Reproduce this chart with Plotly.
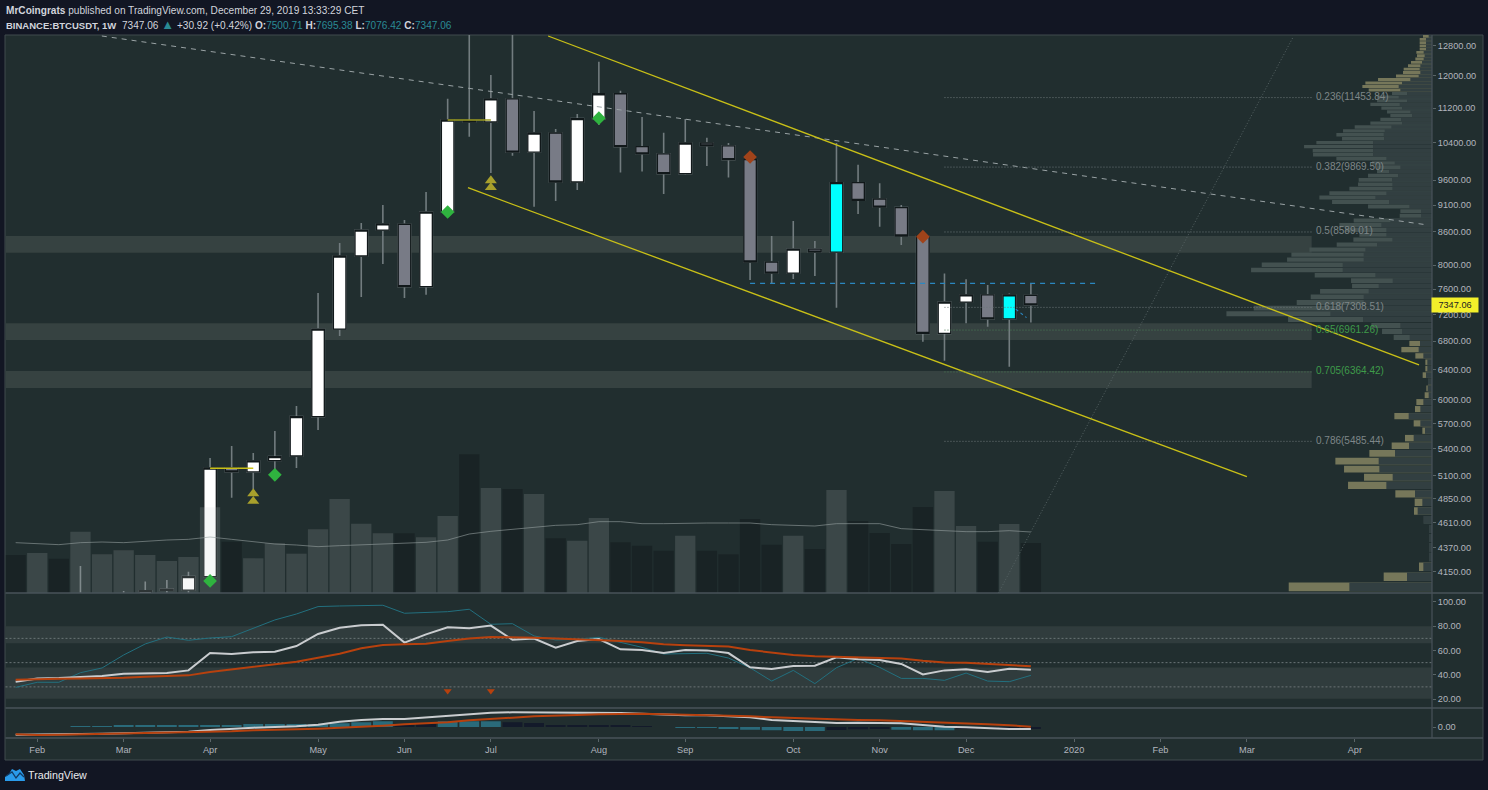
import math
import plotly.graph_objects as go

W, H = 1488, 790

# weekly candles, week 0 = 2019-04-01
candle_weeks = list(range(-6, 39))
opens = [3790, 3810, 3830, 3880, 3997, 3989, 4106, 5181, 5137, 5264, 5316, 5783, 6977, 8158, 8625,
         8732, 7639, 8964, 10900, 10870, 11420, 10191, 10617, 9560, 10950, 11549, 10310, 10155, 9733,
         10392, 10330, 10027, 8054, 7866, 8280, 8227, 9545, 9218, 9050, 8515, 6913, 7392, 7505, 7130, 7500.71]
highs = [4201, 3950, 3981, 4062, 4077, 4148, 5293, 5431, 5350, 5608, 5917, 7536, 8389, 8757, 9100,
         8813, 9355, 11427, 13970, 12020, 13200, 11127, 10710, 11060, 12365, 11620, 10987, 10625, 10940,
         10510, 10392, 10130, 8515, 8795, 8425, 10392, 9920, 9535, 9100, 8530, 7860, 7762, 7667, 7530, 7695.38]
lows = [3650, 3700, 3780, 3840, 3900, 3930, 4068, 4860, 4953, 5137, 5181, 5620, 6874, 7473, 8020,
        7457, 7509, 8880, 10534, 9745, 10110, 9066, 9178, 9395, 10800, 9755, 9778, 9316, 9710,
        9895, 9650, 7750, 7700, 7767, 7816, 7303, 8925, 8687, 8353, 6790, 6520, 7065, 7010, 6436, 7076.42]
closes = [3800, 3830, 3870, 3983, 3987, 4106, 5181, 5137, 5260, 5309, 5783, 6977, 8158, 8625, 8738,
          7639, 8964, 10917, 10870, 11420, 10191, 10617, 9560, 10950, 11549, 10310, 10155, 9733, 10392,
          10330, 10027, 8054, 7866, 8280, 8227, 9545, 9192, 9060, 8515, 6913, 7392, 7505, 7130, 7505, 7347.06]
cyan_weeks = [29, 37]

# volume pane
vol_weeks = list(range(-9, 39))
volumes = [114, 120, 103, 184, 116, 128, 114, 96, 108, 257, 154, 104, 149, 118, 191, 282, 208, 179, 179, 167,
           231, 416, 315, 312, 297, 164, 157, 225, 152, 142, 127, 172, 127, 116, 222, 145, 172, 132, 309, 216,
           180, 147, 258, 306, 201, 154, 207, 150]
vol_light = [-8, -6, -5, -4, -3, -2, -1, 0, 2, 3, 4, 5, 6, 7, 8, 10, 11, 13, 15, 17, 18, 22, 27, 29, 34, 35, 37]
vol_ma = [151, 148, 145, 151, 153, 151, 156, 159, 161, 168, 161, 153, 147, 144, 139, 142, 145, 147, 149, 152,
          159, 177, 185, 191, 198, 203, 205, 214, 214, 208, 208, 210, 210, 210, 210, 205, 203, 201, 208, 209,
          208, 193, 190, 189, 184, 184, 187, 183]

# stochastic / rsi pane
stoch = [29.6, 33.8, 33.8, 41.7, 45.6, 56.3, 65.4, 71.1, 68.4, 70.3, 71.4, 78.3, 85.2, 90.1, 96.2, 96.7, 97.3, 97.3,
         90.7, 91.2, 92.0, 94.0, 81.6, 82.1, 72.0, 68.7, 69.2, 70.9, 66.5, 62.6, 57.1, 57.1, 57.7, 53.8, 45.8, 34.8,
         43.6, 32.7, 45.8, 53.5, 46.1, 37.0, 37.0, 35.4, 41.4, 34.8, 34.3, 39.5]
rsi = [34.3, 37.0, 37.3, 37.9, 39.0, 40.9, 41.4, 41.4, 43.6, 57.9, 57.1, 58.5, 59.0, 63.7, 73.6, 78.8, 80.8, 81.3,
       66.5, 73.3, 79.1, 78.3, 80.5, 68.9, 69.8, 62.3, 67.8, 69.5, 61.0, 60.4, 57.9, 60.4, 60.1, 57.9, 46.1, 44.7,
       47.2, 47.5, 54.4, 52.7, 52.2, 48.9, 40.3, 43.6, 44.5, 42.3, 45.0, 44.2]
rsi_ma = [35.9, 36.5, 36.8, 37.0, 37.0, 37.6, 38.4, 39.0, 39.5, 42.3, 44.5, 46.4, 48.3, 50.8, 54.1, 57.4, 61.8, 64.5,
          65.1, 65.6, 67.8, 69.8, 71.1, 71.1, 70.6, 69.8, 69.2, 68.9, 67.8, 66.7, 65.1, 64.3, 63.7, 63.2, 60.4, 58.2,
          56.3, 55.2, 54.9, 54.6, 54.1, 53.5, 51.6, 50.2, 50.0, 49.2, 48.0, 47.0]
rsi_signal_weeks = [11, 13]
rsi_signal_values = [26.6, 26.6]

# macd pane
macd = [-621, -621, -594, -567, -540, -513, -486, -459, -378, -243, -135, -54, 0, 54, 189, 432, 567, 648, 648, 783,
        891, 1053, 1161, 1188, 1188, 1161, 1134, 1161, 1134, 1080, 999, 945, 945, 891, 783, 567, 486, 432, 324, 351,
        324, 297, 162, 27, -27, -108, -162, -162]
macd_signal = [-594, -648, -621, -594, -567, -540, -513, -486, -459, -405, -351, -270, -243, -189, -135, -54, 0, 108,
               216, 297, 378, 540, 675, 756, 864, 891, 972, 1026, 1053, 1080, 1026, 999, 972, 945, 864, 783, 729, 648,
               567, 567, 540, 486, 405, 351, 297, 216, 135, 27]
hist_weeks = list(range(-6, 39))
hist = [27, 27, 108, 108, 108, 108, 162, 162, 243, 243, 243, 216, 297, 378, 459, 189, 243, 459, 459, 459, 378, 324,
        162, 162, 162, 108, 54, 0, -27, -54, -162, -216, -270, -324, -324, -243, -189, -162, -216, -270, -270,
        -108, -135, -135, -162]
hist_dark = [9, 10, 14, 15, 16, 17, 18, 19, 20, 29, 30, 31, 35, 36, 37, 38]

# volume profile rows, bottom to top
vp_bottom = 4016
vp_step = 88.67
vp_total = [430, 145, 39, 9, 9, 9, 9, 25, 54, 52, 110, 252, 204, 264, 290, 188, 121, 81, 29, 55, 113, 51, 47, 22, 17,
            12, 28, 20, 20, 50, 92, 68, 115, 150, 182, 432, 617, 535, 406, 364, 336, 240, 243, 352, 543, 511, 435,
            422, 368, 286, 236, 218, 260, 278, 235, 97, 95, 192, 300, 338, 308, 248, 222, 220, 192, 165, 165, 180,
            287, 357, 358, 384, 347, 270, 287, 267, 232, 185, 155, 125, 135, 152, 185, 165, 165, 120, 190, 209, 200,
            162, 108, 87, 85, 72, 63, 50, 45, 47, 37, 37, 37, 37, 27]
vp_inner = [248, 75, 26, 9, 9, 9, 9, 25, 43, 29, 51, 137, 118, 158, 160, 111, 69, 55, 21, 35, 70, 35, 26, 10, 13,
            12, 18, 14, 14, 26, 40, 36, 67, 90, 95, 207, 305, 270, 205, 205, 190, 160, 118, 170, 268, 268, 205,
            205, 200, 165, 119, 137, 137, 152, 125, 33, 33, 68, 129, 170, 137, 119, 119, 120, 102, 129, 95, 112,
            137, 177, 177, 177, 177, 144, 145, 142, 122, 90, 93, 60, 65, 90, 97, 75, 100, 75, 95, 100, 90,
            65, 40, 35, 37, 35, 30, 25, 22, 25, 18, 18, 18, 18, 10]
vp_olive_rows = list(range(0, 3)) + list(range(8, 32)) + list(range(86, 103))

# horizontal zones
zone_low = [8215, 6816, 6150]
zone_high = [8515, 7064, 6376]
zone_end_week = 51

# fib levels
fib_start_week = 34
fib_end_week = 51
fib_prices = [11453.84, 9869.50, 8589.01, 7308.51, 6961.26, 6364.42, 5485.44]
fib_labels = ["0.236(11453.84)", "0.382(9869.50)", "0.5(8589.01)", "0.618(7308.51)",
              "0.65(6961.26)", "0.705(6364.42)", "0.786(5485.44)"]
fib_colors = ["#7e8688", "#7e8688", "#7e8688", "#7e8688", "#3f9b4a", "#3f9b4a", "#7e8688"]

# drawings, (week, price) at both ends
channel_upper_weeks = [15.65, 55.97]
channel_upper_prices = [13069, 6460]
channel_lower_weeks = [11.94, 48.0]
channel_lower_prices = [9443, 5086]
dashed_weeks = [-5.01, 56.37]
dashed_prices = [13069, 8719]
diag_weeks = [36.5, 50.14]
diag_prices = [3964, 13040]
resist_weeks = [25, 41]
resist_prices = [7695, 7695]
small_blue_weeks = [37.3, 37.8]
small_blue_prices = [7280, 7150]
step_weeks = [[0, 2], [11, 13]]
step_prices = [[5178, 5178], [10917, 10917]]

# signals on the candles
green_weeks = [0, 3, 11, 18]
green_prices = [4068, 5106, 8965, 10960]
red_weeks = [25, 33]
red_prices = [10085, 8503]
arrow_weeks = [2, 2, 13, 13]
arrow_prices = [4905, 4825, 9590, 9450]

# axis ticks
price_ticks = [12800, 12000, 11200, 10400, 9600, 9100, 8600, 8000, 7600, 7200, 6800, 6400, 6000, 5700, 5400, 5100,
               4850, 4610, 4370, 4150]
rsi_ticks = [100, 80, 60, 40, 20]
month_weeks = [-8, -4, 0, 5, 9, 13, 18, 22, 27, 31, 35, 40, 44, 48, 53]
month_labels = ["Feb", "Mar", "Apr", "May", "Jun", "Jul", "Aug", "Sep", "Oct", "Nov", "Dec", "2020", "Feb", "Mar", "Apr"]

BG = "#212e2f"
PAGE = "#121623"
TEXT = "#b2b5be"
FONT = "Liberation Sans"


def px(x):
    return x / W


def py(y):
    return 1 - y / H


week_range = [-9.47, 56.57]
fig = go.Figure()

# wicks go first, bodies have no whiskers so they sit clean on top
fig.add_trace(go.Candlestick(x=candle_weeks, open=opens, high=highs, low=lows, close=closes,
                             increasing=dict(fillcolor="#727c7f", line=dict(color="#727c7f", width=1.6)),
                             decreasing=dict(fillcolor="#727c7f", line=dict(color="#727c7f", width=1.6))))


def body_color(w, o, c):
    if w in cyan_weeks:
        return "#00ffff"
    return "#ffffff" if c >= o else "#787b86"


for col in ["#ffffff", "#787b86", "#00ffff"]:
    idx = [i for i, w in enumerate(candle_weeks) if body_color(w, opens[i], closes[i]) == col]
    o = [opens[i] for i in idx]
    c = [closes[i] for i in idx]
    style = dict(fillcolor=col, line=dict(color="#11181a", width=1.3))
    fig.add_trace(go.Candlestick(x=[candle_weeks[i] for i in idx], open=o, close=c,
                                 high=[max(a, b) for a, b in zip(o, c)], low=[min(a, b) for a, b in zip(o, c)],
                                 increasing=style, decreasing=style))

# volume
fig.add_trace(go.Bar(x=vol_weeks, y=volumes, yaxis="y4", width=0.94,
                     marker=dict(color=["rgba(200,205,205,0.16)" if w in vol_light else "rgba(14,20,22,0.4)" for w in vol_weeks],
                                 line=dict(width=0))))
fig.add_trace(go.Scatter(x=vol_weeks, y=vol_ma, yaxis="y4", mode="lines",
                         line=dict(color="rgba(150,160,160,0.6)", width=1)))

# volume profile
vp_rows = [vp_bottom + vp_step * k for k in range(len(vp_total))]
fig.add_trace(go.Bar(y=vp_rows, x=vp_total, xaxis="x4", orientation="h", width=vp_step * 0.86,
                     marker=dict(color=["#76775a" if k in vp_olive_rows else "#435150" for k in range(len(vp_total))],
                                 line=dict(width=0))))
fig.add_trace(go.Bar(y=vp_rows, x=vp_inner, xaxis="x4", orientation="h", width=vp_step * 0.86,
                     marker=dict(color="#323f41", line=dict(width=0))))

# drawings
for weeks, prices, col, wid, dash in [
    (diag_weeks, diag_prices, "#566364", 1, "1px,2px"),
    (dashed_weeks, dashed_prices, "#9aa3a5", 1, "5px,5px"),
    (channel_upper_weeks, channel_upper_prices, "#c9c017", 1.3, "solid"),
    (channel_lower_weeks, channel_lower_prices, "#c9c017", 1.3, "solid"),
    (resist_weeks, resist_prices, "#2b87c0", 1.3, "5px,5px"),
    (small_blue_weeks, small_blue_prices, "#2b87c0", 1.1, "3px,3px"),
    (step_weeks[0], step_prices[0], "#c9c017", 1.3, "solid"),
    (step_weeks[1], step_prices[1], "#9a9a20", 1.3, "solid"),
]:
    fig.add_trace(go.Scatter(x=weeks, y=prices, xaxis="x5", mode="lines", line=dict(color=col, width=wid, dash=dash)))

for p, label, col in zip(fib_prices, fib_labels, fib_colors):
    line_col = "#4a7d55" if col == "#3f9b4a" else "#6d787a"
    fig.add_trace(go.Scatter(x=[fib_start_week, fib_end_week], y=[p, p], xaxis="x5", mode="lines",
                             line=dict(color=line_col, width=1, dash="1px,2px")))
    fig.add_trace(go.Scatter(x=[fib_end_week + 0.2], y=[p], xaxis="x5", mode="text", text=[label],
                             textposition="middle right", textfont=dict(color=col, size=10, family=FONT)))

fig.add_trace(go.Scatter(x=green_weeks, y=green_prices, xaxis="x5", mode="markers",
                         marker=dict(symbol="diamond", size=10.5, color="#2fb33f", line=dict(width=0))))
fig.add_trace(go.Scatter(x=red_weeks, y=red_prices, xaxis="x5", mode="markers",
                         marker=dict(symbol="diamond", size=10.5, color="#a0431a", line=dict(width=0))))
fig.add_trace(go.Scatter(x=arrow_weeks, y=arrow_prices, xaxis="x5", mode="markers",
                         marker=dict(symbol="triangle-up", size=10.5, color="#a8a02c", line=dict(width=0))))

# rsi pane
fig.add_trace(go.Scatter(x=vol_weeks, y=stoch, xaxis="x2", yaxis="y2", mode="lines", line=dict(color="#23707f", width=1)))
fig.add_trace(go.Scatter(x=vol_weeks, y=rsi, xaxis="x2", yaxis="y2", mode="lines", line=dict(color="#c9cccf", width=2)))
fig.add_trace(go.Scatter(x=vol_weeks, y=rsi_ma, xaxis="x2", yaxis="y2", mode="lines", line=dict(color="#b7410e", width=2)))
fig.add_trace(go.Scatter(x=rsi_signal_weeks, y=rsi_signal_values, xaxis="x2", yaxis="y2", mode="markers",
                         marker=dict(symbol="triangle-down", size=7, color="#b7410e")))

# macd pane
fig.add_trace(go.Bar(x=hist_weeks, y=hist, xaxis="x3", yaxis="y3", width=0.92,
                     marker=dict(color=["#131a2a" if w in hist_dark else "#2a6a7a" for w in hist_weeks], line=dict(width=0))))
fig.add_trace(go.Scatter(x=vol_weeks, y=macd, xaxis="x3", yaxis="y3", mode="lines", line=dict(color="#c9cccf", width=2)))
fig.add_trace(go.Scatter(x=vol_weeks, y=macd_signal, xaxis="x3", yaxis="y3", mode="lines", line=dict(color="#b7410e", width=2)))

x_dom = [px(5.5), px(1432)]
shapes = [dict(type="rect", xref="paper", yref="paper", x0=px(5), x1=px(1483), y0=py(760), y1=py(35),
               fillcolor=BG, line=dict(color="#414a4f", width=1), layer="below")]
# price zones, under the candles
for lo, hi in zip(zone_low, zone_high):
    shapes.append(dict(type="rect", xref="x", yref="y", x0=week_range[0], x1=zone_end_week, y0=lo, y1=hi,
                       fillcolor="#364241", line=dict(width=0), layer="below"))
# rsi bands and levels
for lo, hi in [(66, 80), (20.2, 46)]:
    shapes.append(dict(type="rect", xref="paper", yref="y2", x0=x_dom[0], x1=x_dom[1], y0=lo, y1=hi,
                       fillcolor="#303c3d", line=dict(width=0), layer="below"))
for lvl in [70, 50, 30]:
    shapes.append(dict(type="line", xref="paper", yref="y2", x0=x_dom[0], x1=x_dom[1], y0=lvl, y1=lvl,
                       line=dict(color="#6a7476", width=1, dash="2px,2px"), layer="below"))
# pane separators and price scale line
for y in [593, 708, 738]:
    shapes.append(dict(type="line", xref="paper", yref="paper", x0=x_dom[0], x1=px(1483), y0=py(y), y1=py(y),
                       line=dict(color="#48535a", width=1.5)))
shapes.append(dict(type="line", xref="paper", yref="paper", x0=px(1432), x1=px(1432), y0=py(738), y1=py(35),
                   line=dict(color="#48535a", width=1.2)))
# tradingview logo
cloud = [(5, 781), (5, 777), (9, 774), (12, 769), (16, 771), (20, 769), (24, 775), (25, 781)]
shapes.append(dict(type="path", xref="paper", yref="paper", line=dict(width=0), fillcolor="#2a9bea",
                   path="M " + " L ".join(f"{px(a)} {py(b)}" for a, b in cloud) + " Z"))
ridge = [(6, 776), (12, 772), (16, 778), (20, 773), (24, 777)]
shapes.append(dict(type="path", xref="paper", yref="paper", line=dict(color="#123a63", width=1.3),
                   path="M " + " L ".join(f"{px(a)} {py(b)}" for a, b in ridge)))

teal = "#2a8a94"
head1 = "<b>MrCoingrats</b> published on TradingView.com, December 29, 2019 13:33:29 CET"
head2 = ("<span style='font-size:9.5px'><b>BINANCE:BTCUSDT, 1W</b></span>  7347.06 "
         "<span style='color:%s;font-size:13px'>▲</span> +30.92 (+0.42%%) "
         "<b>O:</b><span style='color:%s'>7500.71</span> <b>H:</b><span style='color:%s'>7695.38</span> "
         "<b>L:</b><span style='color:%s'>7076.42</span> <b>C:</b><span style='color:%s'>7347.06</span>"
         % (teal, teal, teal, teal, teal))
annotations = [
    dict(text=head1, x=px(3.5), y=py(11), xref="paper", yref="paper", xanchor="left", yanchor="middle", showarrow=False,
         font=dict(family=FONT, size=10.1, color="#d1d4dc")),
    dict(text=head2, x=px(3.5), y=py(24), xref="paper", yref="paper", xanchor="left", yanchor="middle", showarrow=False,
         font=dict(family=FONT, size=10.1, color="#d1d4dc")),
    dict(text="TradingView", x=px(26), y=py(775), xref="paper", yref="paper", xanchor="left", yanchor="middle",
         showarrow=False, font=dict(family=FONT, size=10.7, color="#e8eaee")),
    dict(text=f"{closes[-1]:.2f}", x=px(1454.5), y=math.log10(closes[-1]), xref="paper", yref="y", xanchor="center",
         yanchor="middle", showarrow=False, bgcolor="#f4f02a", width=44, height=12,
         font=dict(family=FONT, size=9.2, color="#222222")),
]

tick_font = dict(family=FONT, size=9.2, color=TEXT)
fig.update_layout(
    width=W, height=H, autosize=False, margin=dict(l=0, r=0, t=0, b=0),
    paper_bgcolor=PAGE, plot_bgcolor="rgba(0,0,0,0)",
    showlegend=False, hovermode=False, barmode="overlay", boxgap=0.42, boxgroupgap=0,
    shapes=shapes, annotations=annotations,
    xaxis=dict(domain=x_dom, range=week_range, showgrid=False, zeroline=False, showticklabels=False,
               rangeslider_visible=False, anchor="y"),
    xaxis2=dict(domain=x_dom, range=week_range, showgrid=False, zeroline=False, showticklabels=False, anchor="y2"),
    xaxis3=dict(domain=x_dom, range=week_range, showgrid=False, zeroline=False, anchor="y3",
                tickmode="array", tickvals=month_weeks, ticktext=month_labels, ticks="outside", ticklen=3,
                tickcolor="#5a6568", tickfont=tick_font),
    xaxis4=dict(domain=x_dom, range=[4281, 0], overlaying="x", visible=False, anchor="y"),
    xaxis5=dict(domain=x_dom, range=week_range, overlaying="x", visible=False, anchor="y"),
    yaxis=dict(domain=[py(593), py(35)], type="log", range=[math.log10(3964), math.log10(13097)], side="right",
               showgrid=False, zeroline=False, anchor="x", tickmode="array", tickvals=price_ticks,
               ticktext=[f"{v:.2f}" for v in price_ticks], ticks="outside", ticklen=3, tickcolor="#5a6568",
               tickfont=tick_font),
    yaxis2=dict(domain=[py(708), py(593)], range=[12.6, 107.4], side="right", showgrid=False, zeroline=False,
                anchor="x2", tickmode="array", tickvals=rsi_ticks, ticktext=[f"{v:.2f}" for v in rsi_ticks],
                ticks="outside", ticklen=3, tickcolor="#5a6568", tickfont=tick_font),
    yaxis3=dict(domain=[py(738), py(708)], range=[-891, 1539], side="right", showgrid=False, zeroline=False,
                anchor="x3", tickmode="array", tickvals=[0], ticktext=["0.00"], ticks="outside", ticklen=3,
                tickcolor="#5a6568", tickfont=tick_font),
    yaxis4=dict(domain=[py(593), py(35)], range=[0, 1674], overlaying="y", visible=False, anchor="x"),
)

fig.write_html("out.html", config={"displayModeBar": False},
               post_script="document.body.style.margin='0';document.body.style.overflow='hidden';")
